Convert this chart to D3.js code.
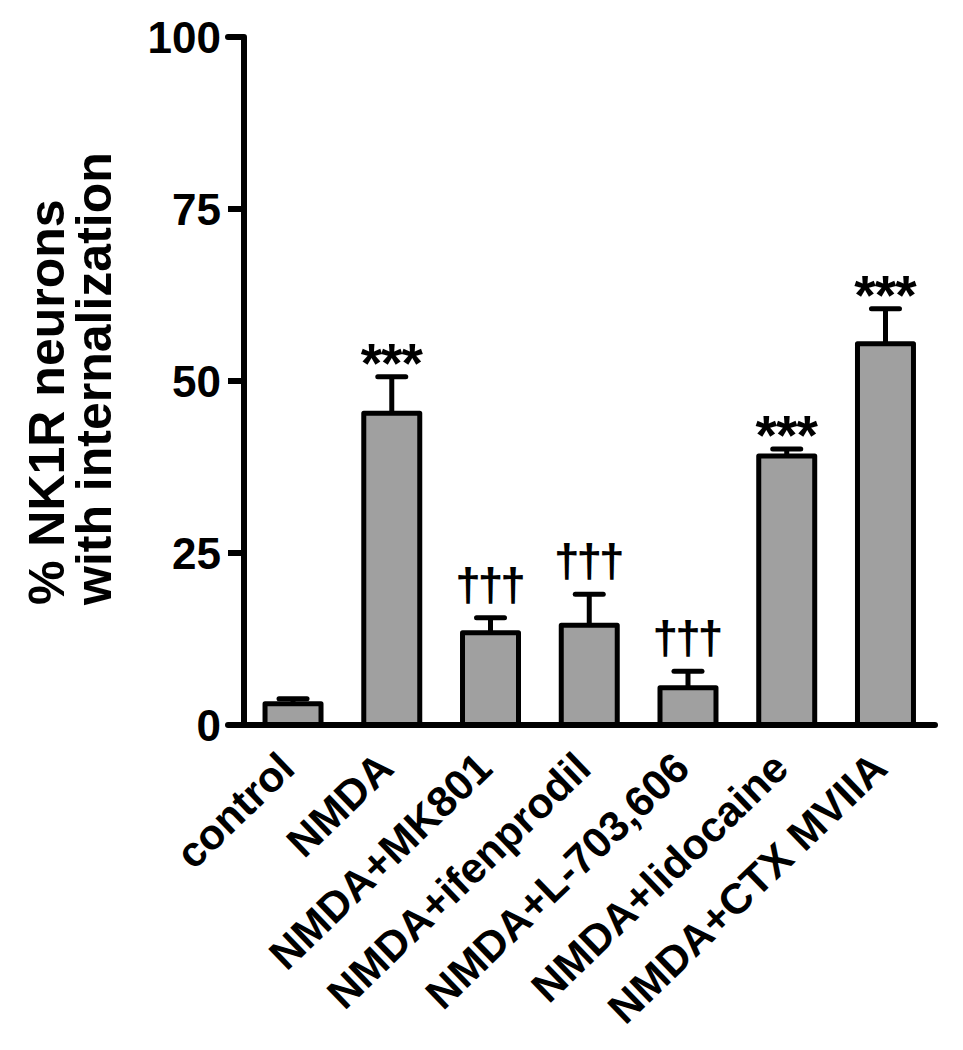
<!DOCTYPE html>
<html>
<head>
<meta charset="utf-8">
<script src="https://cdn.jsdelivr.net/npm/d3@7"></script>
<style>
  html, body { margin: 0; padding: 0; background: #fff; }
  svg { display: block; }
  text { font-family: "Liberation Sans", Arial, Helvetica, sans-serif; font-weight: bold; fill: #000; }
</style>
</head>
<body>
<svg id="chart" width="963" height="1050"></svg>
<script>
// ---- data ----
const categories = ["control", "NMDA", "NMDA+MK801", "NMDA+ifenprodil", "NMDA+L-703,606", "NMDA+lidocaine", "NMDA+CTX MVIIA"];
const means = [3.1, 45.3, 13.4, 14.5, 5.4, 39.1, 55.4];
const sems = [0.7, 5.3, 2.2, 4.5, 2.4, 1.0, 5.1];
const marks = ["", "***", "\u2020\u2020\u2020", "\u2020\u2020\u2020", "\u2020\u2020\u2020", "***", "***"];
const yTicks = [0, 25, 50, 75, 100];
const yLabelLines = ["% NK1R neurons", "with internalization"];

// ---- layout ----
const svg = d3.select("#chart");
const axisX = 244, yTop = 37, yBottom = 725;

const y = d3.scaleLinear().domain([0, 100]).range([yBottom, yTop]);
const x = d3.scaleBand().domain(categories)
  .range([axisX, 934.5]).paddingInner(0.433).paddingOuter(0.213);

// bars
svg.append("g").selectAll("rect").data(categories).join("rect")
  .attr("x", d => x(d))
  .attr("width", x.bandwidth())
  .attr("y", (d, i) => y(means[i]))
  .attr("height", (d, i) => y(0) - y(means[i]))
  .attr("fill", "#a0a0a0")
  .attr("stroke", "#000")
  .attr("stroke-width", 5)
  .attr("stroke-linejoin", "round");

// error bars (upper only)
const eb = svg.append("g").attr("stroke", "#000").attr("stroke-width", 5).attr("stroke-linecap", "round");
categories.forEach((c, i) => {
  const cx = x(c) + x.bandwidth() / 2;
  const top = y(means[i] + sems[i]);
  eb.append("line").attr("x1", cx).attr("x2", cx).attr("y1", y(means[i])).attr("y2", top).attr("stroke-linecap", "butt");
  eb.append("line").attr("x1", cx - 14).attr("x2", cx + 14).attr("y1", top).attr("y2", top);
});

// significance marks
categories.forEach((c, i) => {
  if (!marks[i]) return;
  const cx = x(c) + x.bandwidth() / 2;
  const top = y(means[i] + sems[i]);
  const isStar = marks[i].startsWith("*");
  svg.append("text")
    .attr("x", cx)
    .attr("y", isStar ? top + 5 : top - 17)
    .attr("text-anchor", "middle")
    .attr("font-size", isStar ? 55 : 46)
    .attr("letter-spacing", isStar ? -1 : -3)
    .attr("dx", isStar ? -0.5 : -1.5)
    .text(marks[i]);
});

// axes
const ax = svg.append("g").attr("stroke", "#000").attr("stroke-width", 6).attr("fill", "none");
ax.append("path")
  .attr("d", `M${axisX - 16},${y(100)}H${axisX}V${y(0)}`)
  .attr("stroke-linejoin", "round").attr("stroke-linecap", "round");
ax.append("line").attr("x1", axisX - 16).attr("x2", 935).attr("y1", y(0)).attr("y2", y(0)).attr("stroke-linecap", "round");
yTicks.filter(t => t > 0 && t < 100).forEach(t => {
  ax.append("line").attr("x1", axisX - 16).attr("x2", axisX).attr("y1", y(t)).attr("y2", y(t));
});

// y tick labels
svg.append("g").selectAll("text").data(yTicks).join("text")
  .attr("x", axisX - 23)
  .attr("y", d => y(d))
  .attr("dy", "0.36em")
  .attr("text-anchor", "end")
  .attr("font-size", 44)
  .text(d => d);

// x labels
svg.append("g").selectAll("text").data(categories).join("text")
  .attr("transform", d => `translate(${x(d) + x.bandwidth() / 2 + 4},771) rotate(-44)`)
  .attr("text-anchor", "end")
  .attr("font-size", 42.5)
  .text(d => d);

// y axis title
const yl = svg.append("g");
yl.append("text").attr("transform", "translate(64,605) rotate(-90)").attr("font-size", 50).text(yLabelLines[0]);
yl.append("text").attr("transform", "translate(111,605) rotate(-90)").attr("font-size", 50).text(yLabelLines[1]);
</script>
</body>
</html>
